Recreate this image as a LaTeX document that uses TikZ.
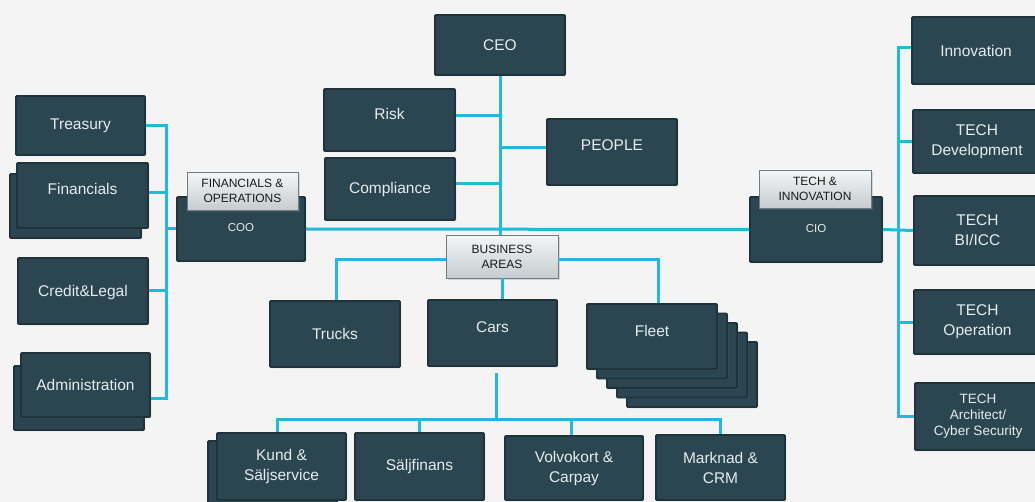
\documentclass[tikz,border=0pt]{standalone}
\usepackage{fontspec}
\setmainfont{Liberation Sans}
\usetikzlibrary{shadows}
\definecolor{pagebg}{HTML}{F4F4F4}
\definecolor{boxfill}{HTML}{2C4651}
\definecolor{boxedge}{HTML}{1F333A}
\definecolor{boxtext}{HTML}{E4ECEE}
\definecolor{linkcol}{HTML}{22BAD9}
\definecolor{tagtop}{HTML}{F5F6F7}
\definecolor{tagbot}{HTML}{C6CCCF}
\definecolor{tagedge}{HTML}{6E7C83}

% \orgbox{name}{x1}{y1}{x2}{y2}{raise}{text}: a unit box and its caption
\newcommand\orgbox[7]{%
  \node[unit, minimum width={(#4)-(#2)}, minimum height={(#5)-(#3)}]
    (#1) at ({((#2)+(#4))/2},{((#3)+(#5))/2}) {};
  \node[txt] (#1-t) at ([yshift=#6pt]#1.center) {#7};}
% \backbox{name}{x1}{y1}{x2}{y2}: an empty box stacked behind another
\newcommand\backbox[5]{%
  \node[unit, minimum width={(#4)-(#2)}, minimum height={(#5)-(#3)}]
    (#1) at ({((#2)+(#4))/2},{((#3)+(#5))/2}) {};}
% \tagbox{name}{x1}{y1}{x2}{y2}{text}: grey title plate
\newcommand\tagbox[6]{%
  \node[tag, minimum width={(#4)-(#2)}, minimum height={(#5)-(#3)}]
    (#1) at ({((#2)+(#4))/2},{((#3)+(#5))/2}) {#6};}

\begin{document}
\begin{tikzpicture}[x=1pt,y=-1pt,
  unit/.style={draw=boxedge, fill=boxfill, line width=1.8pt, rounded corners=1pt, inner sep=0pt,
    drop shadow={opacity=0.12, shadow xshift=1.5pt, shadow yshift=-1.5pt}},
  txt/.style={text=boxtext, font=\fontsize{15.5}{20}\selectfont, align=center, inner sep=0pt},
  small/.style={txt, font=\fontsize{11.5}{14}\selectfont},
  tiny/.style={txt, font=\fontsize{13.5}{16}\selectfont},
  tag/.style={draw=tagedge, line width=0.9pt, top color=tagtop, bottom color=tagbot,
    inner sep=0pt, text=black!90, font=\fontsize{12}{15}\selectfont, align=center,
    drop shadow={opacity=0.25, shadow xshift=2pt, shadow yshift=-2pt}},
  link/.style={draw=linkcol, line width=3pt},
]
\fill[pagebg] (0,0) rectangle (1035,502);
\useasboundingbox (0,0) rectangle (1035,502);

% ---- executive column
\orgbox{ceo}{435}{15}{565}{75}{0}{CEO}
\orgbox{risk}{324}{89}{455}{151}{6}{Risk}
\orgbox{comp}{325}{158}{455}{220}{0}{Compliance}
\orgbox{people}{547}{119}{677}{185}{7}{PEOPLE}

% ---- left branch
\orgbox{treasury}{16}{96}{145}{155}{0}{Treasury}
\backbox{fin-b}{10}{174}{141}{238}
\orgbox{fin}{17}{163}{148}{228}{7}{Financials}
\orgbox{credit}{18}{258}{148}{324}{-1}{Credit\&Legal}
\backbox{admin-b}{14}{366}{144}{430}
\orgbox{admin}{21}{353}{150}{417}{0}{Administration}

% ---- COO and CIO
\node[unit, minimum width=128, minimum height=64] (coo) at (241,229) {};
\node[small] (coo-t) at ([yshift=1pt]coo.center) {COO};
\tagbox{fo}{187}{172}{298}{210}{FINANCIALS \&\\OPERATIONS}
\node[unit, minimum width=132, minimum height=65] (cio) at (816,229.5) {};
\node[small] (cio-t) at ([yshift=1pt]cio.center) {CIO};
\tagbox{ti}{759}{170}{871}{208}{TECH \&\\INNOVATION}

% ---- right branch
\orgbox{innov}{912}{17}{1040}{84}{0}{Innovation}
\orgbox{dev}{913}{110}{1041}{173}{0}{TECH\\Development}
\orgbox{bi}{914}{196}{1041}{265}{0}{TECH\\BI/ICC}
\orgbox{op}{914}{290}{1041}{354}{0}{TECH\\Operation}
\node[unit, minimum width=126, minimum height=67] (arch) at (978,416.5) {};
\node[tiny] (arch-t) at (arch.center) {TECH\\Architect/\\Cyber Security};

% ---- business areas
\tagbox{ba}{446}{235}{558}{278}{BUSINESS\\AREAS}
\orgbox{trucks}{270}{301}{400}{367}{0}{Trucks}
\orgbox{cars}{428}{300}{557}{366}{6}{Cars}
\foreach \k in {4,3,2,1}{
  \backbox{fleet-b\k}{587+10*\k}{304+9.5*\k}{717+10*\k}{369+9.5*\k}}
\orgbox{fleet}{587}{304}{717}{369}{6}{Fleet}

% ---- car units
\backbox{kund-b}{208}{441}{337}{508}
\orgbox{kund}{217}{433}{346}{500}{0}{Kund \&\\Säljservice}
\orgbox{sf}{355}{433}{484}{500}{0}{Säljfinans}
\orgbox{volvo}{505}{436}{643}{500}{0}{Volvokort \&\\Carpay}
\orgbox{mark}{656}{435}{785}{500}{0}{Marknad \&\\CRM}

% ---- bus lines
\coordinate (lb) at (166,0);
\coordinate (rb) at (898,0);
\coordinate (bb) at (0,419);

% executive trunk
\draw[link] (ceo.south) -- (ceo.south |- ba.north);
\draw[link] ([yshift=4pt]risk.east) -- ([yshift=4pt]risk.east -| ceo.south);
\draw[link] ([yshift=5pt]comp.east) -- ([yshift=5pt]comp.east -| ceo.south);
\draw[link] ([yshift=4pt]people.west) -- ([yshift=4pt]people.west -| ceo.south);
\draw[link] (coo.east) -- (cio.west);

% left bus
\draw[link] (treasury.east) -- (treasury.east -| lb)
  -- ([yshift=-13pt]admin.east -| lb) -- ([yshift=-13pt]admin.east);
\draw[link] ([yshift=2.5pt]fin.east) -- ([yshift=2.5pt]fin.east -| lb);
\draw[link] (credit.east) -- (credit.east -| lb);
\draw[link] (coo.west) -- (coo.west -| lb);

% right bus
\draw[link] ([yshift=3pt]innov.west) -- ([yshift=3pt]innov.west -| rb)
  -- (arch.west -| rb) -- (arch.west);
\draw[link] (dev.west) -- (dev.west -| rb);
\draw[link] (cio.east) -- (bi.west);
\draw[link] (op.west) -- (op.west -| rb);

% business areas
\draw[link] ([yshift=-3pt]ba.west) -| ([xshift=1pt]trucks.north);
\draw[link] ([yshift=-3pt]ba.east) -| ([xshift=6pt]fleet.north);
\draw[link] (ba.south) -- (ba.south |- cars.north);

% car units
\draw[link] ([xshift=3.5pt,yshift=-6pt]cars.south) -- ([xshift=3.5pt]cars.south |- bb);
\draw[link] ([xshift=-4pt]kund.north) -- ([xshift=-4pt]kund.north |- bb)
  -- (mark.north |- bb) -- (mark.north);
\draw[link] (sf.north) -- (sf.north |- bb);
\draw[link] ([xshift=-3pt]volvo.north) -- ([xshift=-3pt]volvo.north |- bb);
\end{tikzpicture}
\end{document}
